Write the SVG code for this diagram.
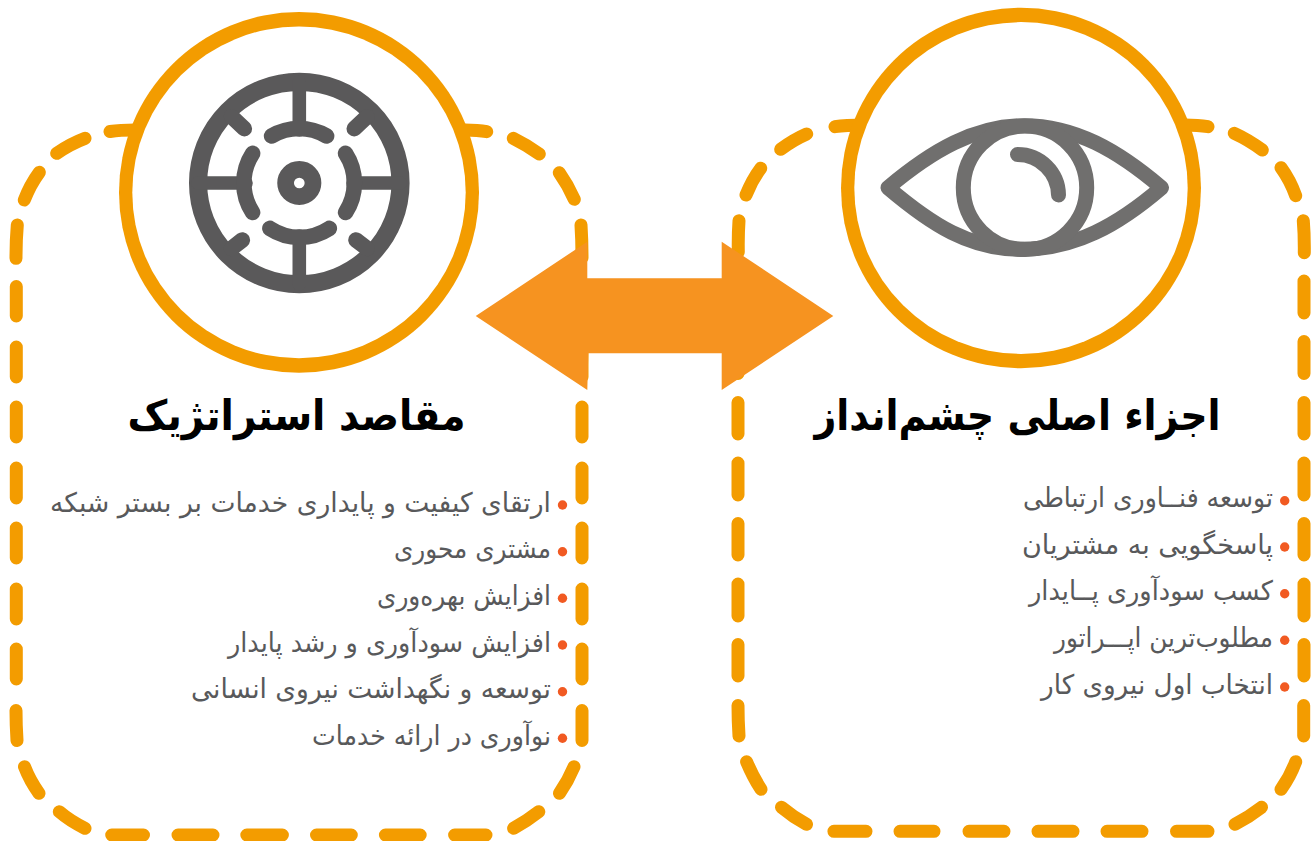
<svg xmlns="http://www.w3.org/2000/svg" width="1315" height="841" viewBox="0 0 1315 841">
<style>
.d{fill:none;stroke:#f39c00;stroke-width:13;stroke-linecap:round}
.ring{fill:#f39c00}
.hole{fill:#fff}
.w{fill:none;stroke:#5a595a;stroke-linecap:round}
.e{fill:none;stroke:#706f6e;stroke-width:15;stroke-linecap:round;stroke-linejoin:round}
.t{font-family:"DejaVu Sans",sans-serif;font-weight:bold;font-size:42px;fill:#000;direction:rtl;text-anchor:start}
.i{font-family:"DejaVu Sans",sans-serif;font-size:27px;fill:#58595b;direction:rtl;text-anchor:start}
.b{fill:#f15a22}
</style>
<g id="node-left">
<path class="d" d="M110 131.5Q120 130 135 130M56.7 153.3Q70 144 85 138.3M39.3 172.3Q30 185 24.3 200M17.3 225Q16 240 16 258.3M16.3 286.5V316M16.3 347V377M16.3 407V437M16.3 468V498M16.3 528V558M16.3 589V619M16.3 649V679M16 710.5Q16 725 17 740.5M24.5 766.7Q30 781 39 793.3M59.3 811.7Q70 821 85 828.3M111.7 835H143.5M178 835H213M246.8 835H282.4M316.5 835H351.3M385.4 835H420.2M454.6 835H486M513.6 828.3Q527 821 538.8 811.7M559.5 793.3Q568 781 574 766.7M582 740.5V710.5M582 679V649M582 619V589M582 558V528M582 498V468M582 437V407M582 377V347M582 316V286.5M582 258Q582 240 581 225M574.3 199.3Q568 185 559.3 172.7M539.3 154Q527 145 513.3 138.3M486.7 131.7Q478 130 465 130"/>
<ellipse class="ring" cx="299" cy="192.4" rx="180" ry="180.3"/>
<ellipse class="hole" cx="299" cy="192.4" rx="166.7" ry="165.9"/>
<g id="icon-wheel">
<circle cx="299.3" cy="183" r="101.2" fill="none" stroke="#5a595a" stroke-width="18.2"/>
<circle cx="299.3" cy="183" r="13.7" fill="none" stroke="#5a595a" stroke-width="16.7"/>
<path class="w" stroke-width="13.6" stroke-linecap="butt" d="M299.3 82V130M299.3 236V284M198 183H246M353 183H400"/>
<path class="w" stroke-width="15.6" d="M271.6 136A54 54 0 0 1 326.6 136M269.9 228.4A54 54 0 0 0 329.3 228.4M252.6 153.4A54 54 0 0 0 252.6 212.4M345.6 153.4A54 54 0 0 1 345.6 212.4M231.6 116.7L244.3 128.7M367 116.7L354.3 128.7M231.6 248.4L242.3 240M367 248.4L356 240"/>
</g>
<text class="t" x="465.5" y="429.5" textLength="338" lengthAdjust="spacingAndGlyphs">مقاصد استراتژیک</text>
<text class="i" x="551" y="512" textLength="501" lengthAdjust="spacingAndGlyphs">ارتقای کیفیت و پایداری خدمات بر بستر شبکه</text>
<text class="i" x="551" y="558" textLength="157" lengthAdjust="spacingAndGlyphs">مشتری محوری</text>
<text class="i" x="551" y="605" textLength="174" lengthAdjust="spacingAndGlyphs">افزایش بهره‌وری</text>
<text class="i" x="551" y="652" textLength="323" lengthAdjust="spacingAndGlyphs">افزایش سودآوری و رشد پایدار</text>
<text class="i" x="551" y="698" textLength="360" lengthAdjust="spacingAndGlyphs">توسعه و نگهداشت نیروی انسانی</text>
<text class="i" x="551" y="745" textLength="239" lengthAdjust="spacingAndGlyphs">نوآوری در ارائه خدمات</text>
<circle class="b" cx="562.5" cy="505" r="4.7"/><circle class="b" cx="562.5" cy="551.7" r="4.7"/><circle class="b" cx="562.5" cy="598.3" r="4.7"/><circle class="b" cx="562.5" cy="645" r="4.7"/><circle class="b" cx="562.5" cy="691.7" r="4.7"/><circle class="b" cx="562.5" cy="738.3" r="4.7"/>
</g>
<g id="node-right">
<path class="d" d="M835 126.7Q845 125 865 125M780.7 149.3Q793 140 806.7 134M760.7 168.3Q752 180 746 195M739 220.7Q738 235 738.3 252M738 281V313M738 341.5V373.5M738 402.5V434M738 463V495M738 523.5V555M738 584V616M738 644.5V676M738 705.5Q738 720 739 736M746.6 761.7Q753 777 761 789.3M781.5 807.3Q793 817 806.5 824.3M833.9 831.3H866M900 831.3H934M969 831.3H1004M1038 831.3H1073M1107 831.3H1142M1176.5 831.3H1208M1235 824.3Q1249 817 1261.5 807.3M1281 789.3Q1290 777 1295.7 761.7M1303.7 736V705.5M1304 676V644.5M1304 616V584M1304 555V523.5M1304 495V463M1304 434V402.5M1304 373.5V341.5M1304 313V281M1304.3 252.7Q1304.5 235 1303.3 220.7M1295.7 195.7Q1290 180 1281 167.7M1262.3 150Q1249 140 1234.3 133.3M1208 126.7Q1198 125 1185 125"/>
<ellipse class="ring" cx="1021" cy="188" rx="180" ry="180.3"/>
<ellipse class="hole" cx="1021" cy="188" rx="166.7" ry="165.9"/>
<g id="icon-eye">
<path class="e" d="M888 187.7C932 150.7 975 125.7 1024 125.7C1075 125.7 1118 150.7 1161.5 187.7C1118 225 1075 249.3 1021 249.3C970 249.3 932 225 888 187.7Z"/>
<circle class="e" cx="1025" cy="187.8" r="61.7"/>
<path class="e" d="M1017.5 154.5A41 41 0 0 1 1058.5 195"/>
</g>
<text class="t" x="1220.5" y="429.5" textLength="406" lengthAdjust="spacingAndGlyphs">اجزاء اصلی چشم‌انداز</text>
<text class="i" x="1273" y="507" textLength="250" lengthAdjust="spacingAndGlyphs">توسعه فنــاوری ارتباطی</text>
<text class="i" x="1273" y="554" textLength="251" lengthAdjust="spacingAndGlyphs">پاسخگویی به مشتریان</text>
<text class="i" x="1273" y="600" textLength="244" lengthAdjust="spacingAndGlyphs">کسب سودآوری پــایدار</text>
<text class="i" x="1273" y="647" textLength="219" lengthAdjust="spacingAndGlyphs">مطلوب‌ترین اپـــراتور</text>
<text class="i" x="1273" y="694" textLength="232" lengthAdjust="spacingAndGlyphs">انتخاب اول نیروی کار</text>
<circle class="b" cx="1284.7" cy="500.7" r="4.7"/><circle class="b" cx="1284.7" cy="547" r="4.7"/><circle class="b" cx="1284.7" cy="593.7" r="4.7"/><circle class="b" cx="1284.7" cy="640.3" r="4.7"/><circle class="b" cx="1284.7" cy="687" r="4.7"/>
</g>
<g id="connectors">
<path id="double-arrow" fill="#f69320" d="M475.7 316L587.3 241.7V278.3H721.7V241.7L833.3 316L721.7 390V353.3H588.3L587.3 390Z"/>
</g>
</svg>
